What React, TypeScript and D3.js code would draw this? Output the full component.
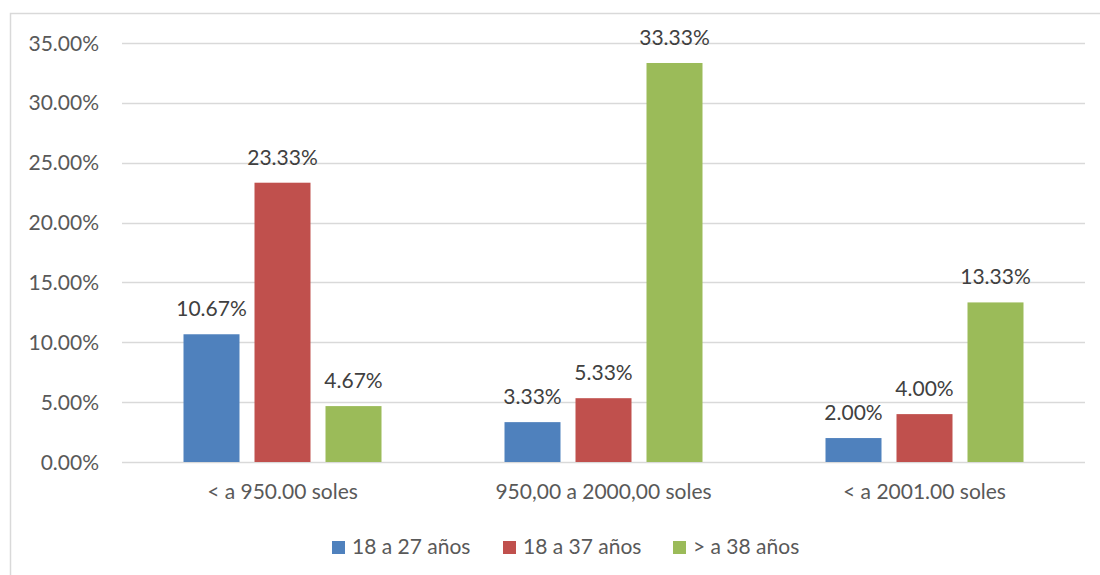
import React from "react";
import * as d3 from "d3";

const categories = ["< a 950.00 soles", "950,00 a 2000,00 soles", "< a 2001.00 soles"];
const seriesNames = ["18 a 27 años", "18 a 37 años", "> a 38 años"];
const seriesColors = ["#4F81BD", "#C0504D", "#9BBB59"];
const serie1 = [10.67, 3.33, 2.0];
const serie2 = [23.33, 5.33, 4.0];
const serie3 = [4.67, 33.33, 13.33];
const yTicks = [0, 5, 10, 15, 20, 25, 30, 35];

const W = 1100;
const H = 575;
const FONT = "Lato, 'Open Sans', sans-serif";
const TXT = "#595959";
const LABEL = "#404040";

export default function App() {
  const seriesValues = [serie1, serie2, serie3];
  const x0 = d3.scaleBand<string>().domain(categories).range([122, 1085]).padding(0);
  const y = d3.scaleLinear().domain([0, 35]).range([462, 43]);
  const groupHalf = 99;
  const x1 = d3
    .scaleBand<string>()
    .domain(seriesNames)
    .range([-groupHalf, groupHalf])
    .paddingInner(15 / 71)
    .paddingOuter(0);

  const legendX = [332, 503, 673];

  return (
    <svg
      width={W}
      height={H}
      style={{ position: "absolute", left: 0, top: 0, background: "#fff" }}
      fontFamily={FONT}
    >
      <rect x={10.5} y={13.5} width={1200} height={700} fill="#fff" stroke="#d9d9d9" strokeWidth={1.5} />
      {yTicks.map((t) => (
        <g key={t}>
          <line x1={122} x2={1085} y1={Math.round(y(t)) + 0.5} y2={Math.round(y(t)) + 0.5} stroke="#d9d9d9" strokeWidth={1.5} />
          <text x={99} y={y(t)} dy="0.36em" textAnchor="end" fontSize={21} fill={TXT}>
            {t.toFixed(2) + "%"}
          </text>
        </g>
      ))}
      {categories.map((c, ci) => {
        const cx = (x0(c) as number) + x0.bandwidth() / 2;
        return (
          <g key={c}>
            {seriesNames.map((s, si) => {
              const v = seriesValues[si][ci];
              const bx = cx + (x1(s) as number);
              return (
                <g key={s}>
                  <rect x={bx} y={y(v)} width={x1.bandwidth()} height={y(0) - y(v)} fill={seriesColors[si]} />
                  <text x={bx + x1.bandwidth() / 2} y={y(v) - 18} textAnchor="middle" fontSize={21} fill={LABEL}>
                    {v.toFixed(2) + "%"}
                  </text>
                </g>
              );
            })}
            <text x={cx} y={499} textAnchor="middle" fontSize={21} fill={TXT}>
              {c}
            </text>
          </g>
        );
      })}
      {seriesNames.map((s, i) => (
        <g key={s}>
          <rect x={legendX[i]} y={541} width={13} height={13} fill={seriesColors[i]} />
          <text x={legendX[i] + 20} y={554} fontSize={21} fill={TXT}>
            {s}
          </text>
        </g>
      ))}
    </svg>
  );
}
